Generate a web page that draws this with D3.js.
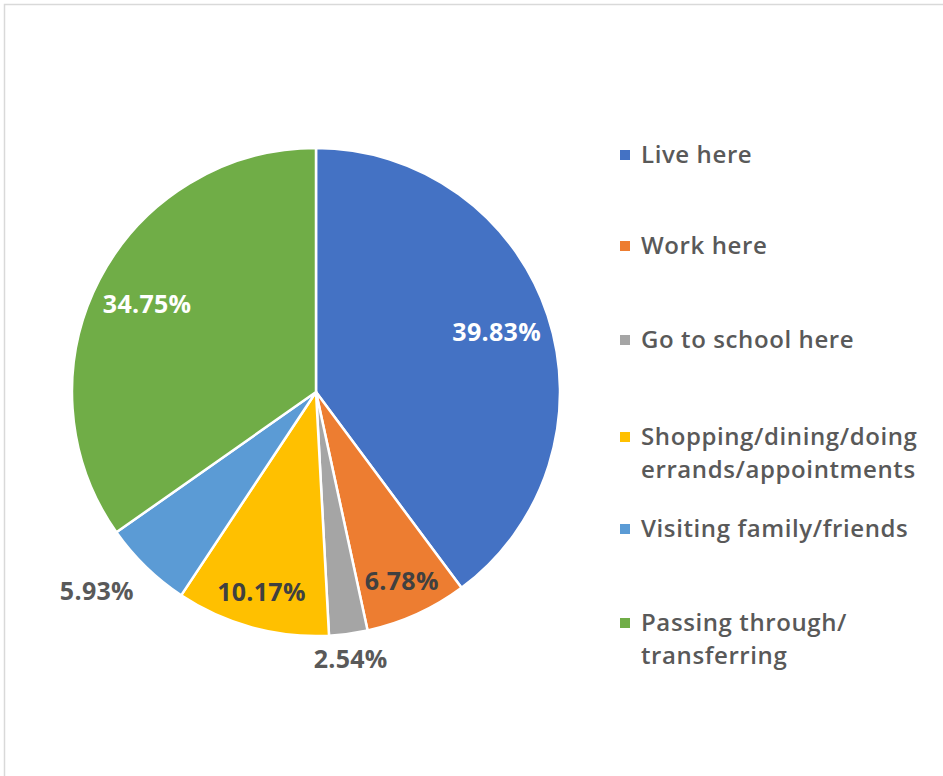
<!DOCTYPE html>
<html>
<head>
<meta charset="utf-8">
<script src="https://cdn.jsdelivr.net/npm/d3@7"></script>
<style>
  html, body { margin: 0; padding: 0; background: #fff; }
  svg { display: block; }
</style>
</head>
<body>
<svg id="chart" width="943" height="776"></svg>
<script>
// Reasons for being in the area (share of respondents, %)
const categories = [
  "Live here",
  "Work here",
  "Go to school here",
  "Shopping/dining/doing errands/appointments",
  "Visiting family/friends",
  "Passing through/ transferring"
];
const values = [39.83, 6.78, 2.54, 10.17, 5.93, 34.75];
const colors = ["#4472C4", "#ED7D31", "#A5A5A5", "#FFC000", "#5B9BD5", "#70AD47"];
// Legend entries wrap onto these lines
const legendLines = [
  ["Live here"],
  ["Work here"],
  ["Go to school here"],
  ["Shopping/dining/doing", "errands/appointments"],
  ["Visiting family/friends"],
  ["Passing through/", "transferring"]
];
// Value labels that sit outside their slice
const outsideLabel = [false, false, true, false, true, false];
const labelColors = ["#ffffff", "#404040", "#595959", "#404040", "#595959", "#ffffff"];

const W = 943, H = 776;
const svg = d3.select("#chart");
const FONT = "'Open Sans', Lato, sans-serif";

// chart area frame
svg.append("rect")
  .attr("x", 4.5).attr("y", 4.5)
  .attr("width", W + 20).attr("height", H + 20)
  .attr("fill", "#fff")
  .attr("stroke", "#d9d9d9").attr("stroke-width", 1.5);

const cx = 316, cy = 392, R = 244;

const data = categories.map((c, i) => ({ name: c, value: values[i], i }));
const pie = d3.pie().value(d => d.value).sort(null);
const arcs = pie(data);
const arc = d3.arc().innerRadius(0).outerRadius(R);

const g = svg.append("g").attr("transform", `translate(${cx},${cy})`);

g.selectAll("path.slice")
  .data(arcs)
  .join("path")
  .attr("class", "slice")
  .attr("d", arc)
  .attr("fill", d => colors[d.data.i])
  .attr("stroke", "#ffffff")
  .attr("stroke-width", 2.5)
  .attr("stroke-linejoin", "round");

// value labels
const fmt = v => v.toFixed(2) + "%";
g.selectAll("text.val")
  .data(arcs)
  .join("text")
  .attr("class", "val")
  .each(function (d) {
    const mid = (d.startAngle + d.endAngle) / 2;
    const s = Math.sin(mid), c = Math.cos(mid);
    const out = outsideLabel[d.data.i];
    const sel = d3.select(this);
    if (out) {
      // outside labels: nearest edge of the text box just beyond the rim
      const r = R * 1.07;
      const side = Math.abs(s) < 0.3 ? "middle" : (s < 0 ? "end" : "start");
      sel.attr("x", r * s)
        .attr("y", -r * c + (Math.abs(s) < 0.3 ? 8 : 12))
        .attr("dy", "0.35em")
        .attr("text-anchor", side);
    } else {
      // inside labels sit a bit further out on the narrow lower slices
      const r = R * (Math.abs(c) > 0.8 ? 0.85 : 0.78);
      sel.attr("x", r * s)
        .attr("y", -r * c)
        .attr("dy", "0.35em")
        .attr("text-anchor", "middle");
    }
  })
  .attr("font-family", FONT)
  .attr("font-weight", 700)
  .attr("font-size", 25)
  .attr("letter-spacing", 0.3)
  .attr("fill", d => labelColors[d.data.i])
  .text(d => fmt(d.data.value));

// legend
const legendX = 620;
const legendRows = [155, 246, 340, 437, 529, 623];
const lineGap = 33;
const lg = svg.append("g");
legendLines.forEach((lines, i) => {
  const y = legendRows[i];
  lg.append("rect")
    .attr("x", legendX).attr("y", y - 5)
    .attr("width", 10).attr("height", 10)
    .attr("fill", colors[i]);
  lines.forEach((t, k) => {
    lg.append("text")
      .attr("x", legendX + 21)
      .attr("y", y + k * lineGap)
      .attr("dy", "0.35em")
      .attr("font-family", FONT)
      .attr("font-weight", 600)
      .attr("font-size", 24)
      .attr("letter-spacing", 0.6)
      .attr("fill", "#595959")
      .text(t);
  });
});
</script>
</body>
</html>
